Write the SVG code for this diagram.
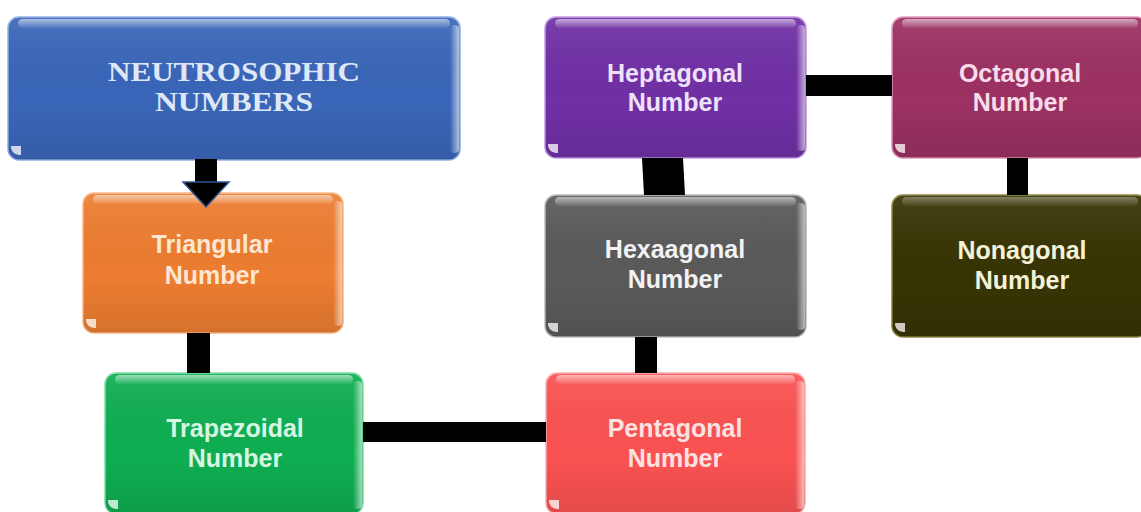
<svg xmlns="http://www.w3.org/2000/svg" width="1141" height="512" viewBox="0 0 1141 512">
<defs>
<linearGradient id="gloss" x1="0" y1="0" x2="0" y2="1">
<stop offset="0" stop-color="#ffffff" stop-opacity="0.55"/>
<stop offset="1" stop-color="#ffffff" stop-opacity="0.05"/>
</linearGradient>
<linearGradient id="shade" x1="0" y1="0" x2="0" y2="1">
<stop offset="0" stop-color="#ffffff" stop-opacity="0.08"/>
<stop offset="0.6" stop-color="#000000" stop-opacity="0"/>
<stop offset="1" stop-color="#000000" stop-opacity="0.1"/>
</linearGradient>
<linearGradient id="redge" x1="0" y1="0" x2="1" y2="0">
<stop offset="0" stop-color="#ffffff" stop-opacity="0"/>
<stop offset="1" stop-color="#ffffff" stop-opacity="0.6"/>
</linearGradient>
</defs>
<style>
.box{stroke-width:1.5}
.sh{fill:url(#shade)}
.gl{fill:url(#gloss)}
.re{fill:url(#redge)}
.cb{fill:#ffffff;fill-opacity:0.75}
.t{font-family:"Liberation Sans",Arial,sans-serif;font-weight:bold;font-size:25px;text-anchor:middle}
.ts{font-family:"Liberation Serif","Times New Roman",serif;font-weight:bold;font-size:27px;text-anchor:middle;fill:#dfe8f7}
.conn{fill:#000000}
</style>
<rect width="1141" height="512" fill="#ffffff"/>

<g id="neutrosophic">
<rect class="box" x="8" y="17" width="452" height="143" rx="11" fill="#3a66b9" stroke="#8fb0e6"/>
<rect class="sh" x="8" y="17" width="452" height="143" rx="11"/>
<rect class="gl" x="18" y="19" width="432" height="9" rx="4.5"/>
<rect class="re" x="450" y="25" width="9" height="128" rx="4"/>
<path class="cb" d="M11 146 a8 8 0 0 0 8 9 h2 v-9 z"/>
<text class="ts" x="234" y="81" textLength="252" lengthAdjust="spacingAndGlyphs">NEUTROSOPHIC</text>
<text class="ts" x="234" y="111" textLength="158" lengthAdjust="spacingAndGlyphs">NUMBERS</text>
</g>

<g id="triangular">
<rect class="box" x="83" y="193" width="260" height="140" rx="11" fill="#ed7d31" stroke="#f7b98a"/>
<rect class="sh" x="83" y="193" width="260" height="140" rx="11"/>
<rect class="gl" x="93" y="195" width="240" height="9" rx="4.5"/>
<rect class="re" x="333" y="201" width="9" height="125" rx="4"/>
<path class="cb" d="M86 319 a8 8 0 0 0 8 9 h2 v-9 z"/>
<text class="t" x="212" y="253" fill="#fde6d2">Triangular</text>
<text class="t" x="212" y="284" fill="#fde6d2">Number</text>
</g>

<g id="trapezoidal">
<rect class="box" x="105" y="373" width="258" height="141" rx="11" fill="#0fae52" stroke="#7fe0a6"/>
<rect class="sh" x="105" y="373" width="258" height="141" rx="11"/>
<rect class="gl" x="115" y="375" width="238" height="9" rx="4.5"/>
<rect class="re" x="353" y="381" width="9" height="128" rx="4"/>
<path class="cb" d="M108 500 a8 8 0 0 0 8 9 h2 v-9 z"/>
<text class="t" x="235" y="437" fill="#d6f6e2">Trapezoidal</text>
<text class="t" x="235" y="467" fill="#d6f6e2">Number</text>
</g>

<g id="pentagonal">
<rect class="box" x="546" y="373" width="259" height="141" rx="11" fill="#fb5252" stroke="#ffb0b0"/>
<rect class="sh" x="546" y="373" width="259" height="141" rx="11"/>
<rect class="gl" x="556" y="375" width="239" height="9" rx="4.5"/>
<rect class="re" x="795" y="381" width="9" height="128" rx="4"/>
<path class="cb" d="M549 500 a8 8 0 0 0 8 9 h2 v-9 z"/>
<text class="t" x="675" y="437" fill="#fde2e2">Pentagonal</text>
<text class="t" x="675" y="467" fill="#fde2e2">Number</text>
</g>

<g id="hexagonal">
<rect class="box" x="545" y="195" width="261" height="142" rx="11" fill="#5a5a5a" stroke="#bcbcbc"/>
<rect class="sh" x="545" y="195" width="261" height="142" rx="11"/>
<rect class="gl" x="555" y="197" width="241" height="9" rx="4.5"/>
<rect class="re" x="796" y="203" width="9" height="127" rx="4"/>
<path class="cb" d="M548 323 a8 8 0 0 0 8 9 h2 v-9 z"/>
<text class="t" x="675" y="258" fill="#f2f2f2">Hexaagonal</text>
<text class="t" x="675" y="288" fill="#f2f2f2">Number</text>
</g>

<g id="heptagonal">
<rect class="box" x="545" y="17" width="261" height="141" rx="11" fill="#7030a6" stroke="#c39be6"/>
<rect class="sh" x="545" y="17" width="261" height="141" rx="11"/>
<rect class="gl" x="555" y="19" width="241" height="9" rx="4.5"/>
<rect class="re" x="796" y="25" width="9" height="126" rx="4"/>
<path class="cb" d="M548 144 a8 8 0 0 0 8 9 h2 v-9 z"/>
<text class="t" x="675" y="82" fill="#eee2fa">Heptagonal</text>
<text class="t" x="675" y="111" fill="#eee2fa">Number</text>
</g>

<g id="octagonal">
<rect class="box" x="892" y="17" width="256" height="141" rx="11" fill="#9c3162" stroke="#e39bbd"/>
<rect class="sh" x="892" y="17" width="256" height="141" rx="11"/>
<rect class="gl" x="902" y="19" width="236" height="9" rx="4.5"/>
<path class="cb" d="M895 144 a8 8 0 0 0 8 9 h2 v-9 z"/>
<text class="t" x="1020" y="82" fill="#f8dcea">Octagonal</text>
<text class="t" x="1020" y="111" fill="#f8dcea">Number</text>
</g>

<g id="nonagonal">
<rect class="box" x="892" y="195" width="256" height="142" rx="11" fill="#373404" stroke="#8a8640"/>
<rect class="sh" x="892" y="195" width="256" height="142" rx="11"/>
<rect class="gl" x="902" y="197" width="236" height="9" rx="4.5" fill-opacity="0.6"/>
<path class="cb" d="M895 323 a8 8 0 0 0 8 9 h2 v-9 z" fill="#e6e39a"/>
<text class="t" x="1022" y="259" fill="#f3f2d6">Nonagonal</text>
<text class="t" x="1022" y="289" fill="#f3f2d6">Number</text>
</g>

<g id="connectors">
<rect class="conn" x="195" y="159" width="22" height="24"/>
<polygon points="183,182 229,182 206,207" fill="#000000" stroke="#2f5597" stroke-width="1.5"/>
<rect class="conn" x="187" y="333" width="23" height="40"/>
<rect class="conn" x="363" y="422" width="183" height="20"/>
<rect class="conn" x="635" y="337" width="22" height="36"/>
<polygon class="conn" points="642,158 683,158 685,195 644,195"/>
<rect class="conn" x="806" y="75" width="86" height="21"/>
<rect class="conn" x="1007" y="158" width="21" height="37"/>
</g>
</svg>
